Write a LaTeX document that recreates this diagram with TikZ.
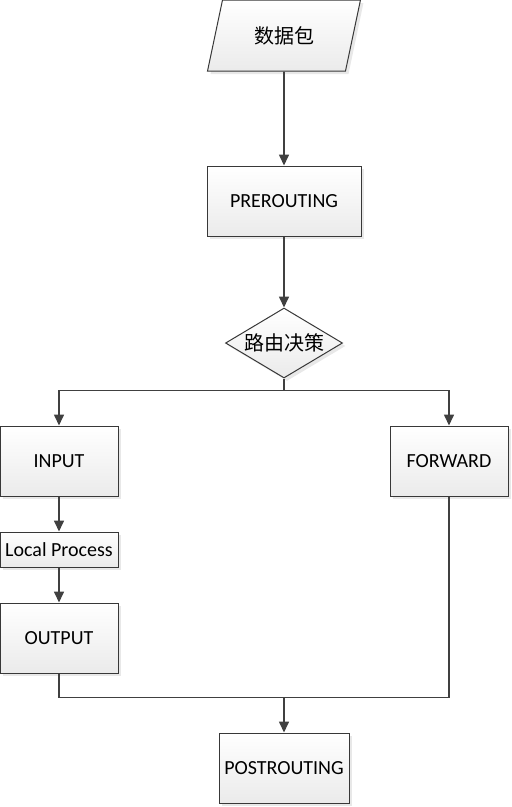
\documentclass[tikz,border=0pt]{standalone}
\usepackage{fontspec}
\setmainfont{Carlito}
\newfontfamily\cjk{Noto Sans CJK SC}
\usetikzlibrary{arrows.meta,positioning,shapes.geometric,shadows}

\begin{document}
\begin{tikzpicture}[
  x=1pt, y=1pt,
  font=\fontsize{20}{22}\selectfont,
  node distance=35pt,
  shade/.style={top color=white, bottom color=black!8, draw=black!78, line width=1pt,
    drop shadow={shadow xshift=3pt, shadow yshift=-3pt, fill=black!9, opacity=1}},
  box/.style={shade, rectangle, minimum width=118pt, minimum height=70pt, inner sep=2pt},
  data/.style={shade, trapezium, trapezium left angle=68.5, trapezium right angle=111.5,
    trapezium stretches=true, minimum width=153pt, minimum height=71pt, inner sep=0pt},
  choice/.style={shade, diamond, aspect=1.67, minimum width=117pt, minimum height=70pt, inner sep=0pt},
  line/.style={draw=black!75, line width=1.6pt},
  arr/.style={line, -{Triangle[length=11pt, width=10pt]}},
]
  \useasboundingbox (0,0) rectangle (512,-807);

  \node[data] (pkt) at (284,-35.5) {\cjk\fontsize{20}{22}\selectfont 数据包};
  \node[box, below=94pt of pkt, minimum width=154pt] (pre) {PREROUTING};
  \node[choice, below=71pt of pre] (route) {\cjk\fontsize{20}{22}\selectfont 路由决策};

  \node[box] (input) at (59,-461) {INPUT};
  \node[box] (forward) at (449,-461) {FORWARD};
  \node[box, below=of input, minimum height=35pt] (local) {Local Process};
  \node[box, below=of local] (output) {OUTPUT};
  \node[box, minimum width=130pt] (post) at (284,-768) {POSTROUTING};

  % main chain
  \draw[arr] (pkt) -- (pre);
  \draw[arr] (pre) -- (route);

  % routing decision
  \draw[line] (route.south) -- ++(0,-12) coordinate (split);
  \draw[arr] (split) -| (input);
  \draw[arr] (split) -| (forward);

  % local path
  \draw[arr] (input) -- (local);
  \draw[arr] (local) -- (output);

  % merge into postrouting
  \draw[line] (output.south) -- ++(0,-24) coordinate (merge) -| (forward.south);
  \draw[arr] (post.north |- merge) -- (post);
\end{tikzpicture}
\end{document}
